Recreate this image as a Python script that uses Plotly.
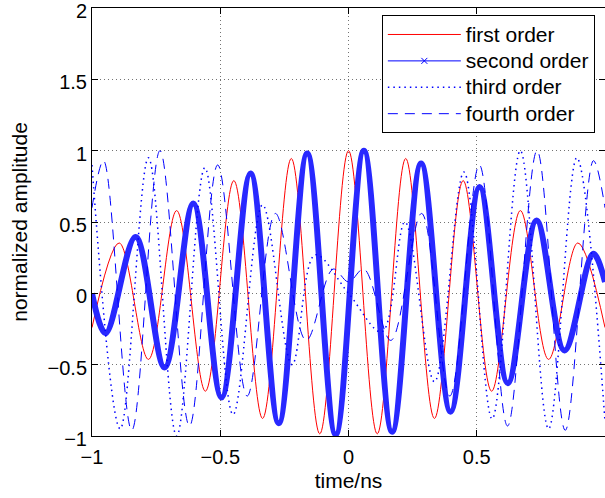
import plotly.graph_objects as go

# ---- data (extrema of each curve) ----
t_first = [-1.0, -0.894, -0.78, -0.67, -0.558, -0.447, -0.335, -0.223, -0.112, 0.0,
           0.112, 0.223, 0.335, 0.447, 0.558, 0.67, 0.78, 0.894, 1.0]
y_first = [-0.24, 0.353, -0.463, 0.58, -0.686, 0.79, -0.877, 0.945, -0.985, 1.0,
           -0.985, 0.945, -0.877, 0.79, -0.686, 0.58, -0.463, 0.353, -0.24]

t_second = [-1.0, -0.947, -0.83, -0.717, -0.605, -0.495, -0.382, -0.272, -0.161, -0.05,
            0.06, 0.17, 0.283, 0.398, 0.511, 0.621, 0.733, 0.842, 0.954, 1.0]
y_second = [0.0, -0.28, 0.395, -0.52, 0.63, -0.73, 0.84, -0.91, 0.98, -0.99,
            1.0, -0.97, 0.91, -0.83, 0.745, -0.63, 0.51, -0.40, 0.278, 0.08]

t_third = [-1.0, -0.89, -0.78, -0.67, -0.56, -0.45, -0.335, -0.22, -0.13, 0.0,
           0.13, 0.22, 0.335, 0.45, 0.56, 0.67, 0.78, 0.89, 1.0]
y_third = [0.9, -0.95, 0.95, -1.0, 0.88, -0.85, 0.62, -0.5, 0.27, 0.0,
           -0.27, 0.5, -0.62, 0.85, -0.88, 1.0, -0.95, 0.95, -0.9]

t_fourth = [-1.0, -0.955, -0.845, -0.735, -0.62, -0.51, -0.395, -0.285, -0.165, -0.06, 0.0,
            0.06, 0.165, 0.285, 0.395, 0.51, 0.62, 0.735, 0.845, 0.955, 1.0]
y_fourth = [0.6, 0.93, -0.96, 1.0, -0.93, 0.9, -0.72, 0.56, -0.33, 0.17, 0.08,
            0.17, -0.33, 0.56, -0.72, 0.9, -0.93, 1.0, -0.96, 0.93, 0.6]

series_names = ["first order", "second order", "third order", "fourth order"]

x_ticks = [-1, -0.5, 0, 0.5, 1]
x_ticktext = ["\u22121", "\u22120.5", "0", "0.5", ""]
y_ticks = [-1, -0.5, 0, 0.5, 1, 1.5, 2]
y_ticktext = ["\u22121", "\u22120.5", "0", "0.5", "1", "1.5", "2"]

FONT = "Liberation Sans, Arial, sans-serif"
FS = 21
TFS = 20


def lg(name):
    return '<span style="font-size:21px">' + name + '</span>'


fig = go.Figure()
fig.add_trace(go.Scatter(x=t_first, y=y_first, mode="lines", name=lg(series_names[0]),
                         line=dict(color="rgb(255,0,0)", width=1, shape="spline", smoothing=1)))
fig.add_trace(go.Scatter(x=t_second, y=y_second, mode="lines", name=lg(series_names[1]),
                         showlegend=False, legendgroup="second",
                         line=dict(color="rgb(40,40,255)", width=6, shape="spline", smoothing=1)))
fig.add_trace(go.Scatter(x=[None], y=[None], mode="lines+markers", name=lg(series_names[1]),
                         legendgroup="second",
                         line=dict(color="rgb(0,0,255)", width=1),
                         marker=dict(symbol="x-thin", size=6, line=dict(color="rgb(0,0,255)", width=1))))
fig.add_trace(go.Scatter(x=t_third, y=y_third, mode="lines", name=lg(series_names[2]),
                         line=dict(color="rgb(0,0,255)", width=1.5, dash="1.5px,4px",
                                   shape="spline", smoothing=1)))
fig.add_trace(go.Scatter(x=t_fourth, y=y_fourth, mode="lines", name=lg(series_names[3]),
                         line=dict(color="rgb(0,0,255)", width=1, dash="10px,7px",
                                   shape="spline", smoothing=1)))

axis_common = dict(
    showline=True, linecolor="black", linewidth=1, mirror="ticks",
    ticks="inside", ticklen=6, tickcolor="black", automargin=False,
    showgrid=True, gridcolor="rgba(0,0,0,0.55)", griddash="1px,3px", gridwidth=1,
    zeroline=False, tickfont=dict(family=FONT, size=TFS, color="black"),
    ticklabeloverflow="allow",
)

fig.update_layout(
    width=605, height=498,
    margin=dict(l=92, r=0, t=8, b=62, autoexpand=False),
    paper_bgcolor="white", plot_bgcolor="white",
    font=dict(family=FONT, size=FS, color="black"),
    xaxis=dict(range=[-1, 1], tickvals=x_ticks, ticktext=x_ticktext, ticklabelstandoff=3,
               title=dict(text="time/ns", font=dict(family=FONT, size=FS), standoff=6),
               **axis_common),
    yaxis=dict(range=[-1, 2], tickvals=y_ticks, ticktext=y_ticktext, ticklabelshift=3,
               title=dict(text="normalized amplitude", font=dict(family=FONT, size=FS), standoff=14),
               **axis_common),
    legend=dict(x=0.565, xanchor="left", y=0.983, yanchor="top",
                bgcolor="white", bordercolor="black", borderwidth=1,
                font=dict(family=FONT, size=18), tracegroupgap=0, itemwidth=73),
    showlegend=True,
)

fig.write_html("out.html", config={"displayModeBar": False},
               post_script="document.body.style.margin='0';")
